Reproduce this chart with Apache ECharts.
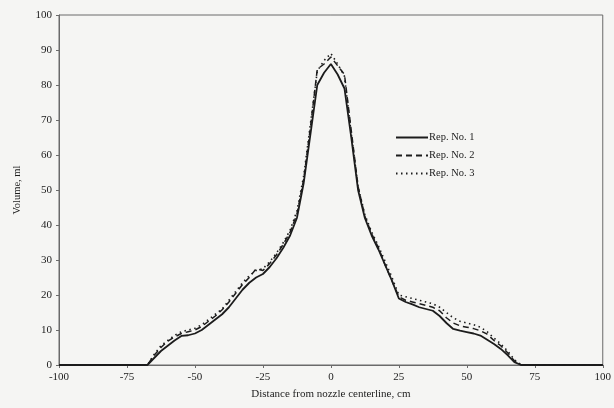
<!DOCTYPE html>
<html>
<head>
<meta charset="utf-8">
<script src="https://cdn.jsdelivr.net/npm/echarts@6/dist/echarts.min.js"></script>
<style>
  html, body { margin: 0; padding: 0; background: #f5f5f3; }
  #chart { width: 614px; height: 408px; }
</style>
</head>
<body>
<div id="chart"></div>
<script>
// Distance from nozzle centerline (cm), sampled every 2.5 cm
const distances = [];
for (let d = -100; d <= 100; d += 2.5) distances.push(d);

// Collected volume (ml) for each replicate
const rep1 = [
  0, 0, 0, 0, 0, 0, 0, 0, 0, 0, 0, 0, 0, 0,      // -100 .. -67.5
  2, 4, 5.5, 7, 8.3, 8.5, 9, 10, 11.5, 13,       // -65 .. -42.5
  14.5, 16.5, 19, 21.5, 23.5, 25, 26, 28, 30.5,  // -40 .. -20
  33.5, 37, 42, 52, 66, 80, 83.5,                // -17.5 .. -2.5
  86,                                            // 0
  83, 79, 65, 50, 42, 37, 33, 28.5, 24,          // 2.5 .. 22.5
  19, 18, 17.3, 16.5, 16, 15.5, 14, 12, 10.3,    // 25 .. 45
  9.8, 9.4, 9, 8.4, 7.2, 6, 4.6, 2.8, 0.8,       // 47.5 .. 67.5
  0, 0, 0, 0, 0, 0, 0, 0, 0, 0, 0, 0, 0          // 70 .. 100
];
const rep2 = [
  0, 0, 0, 0, 0, 0, 0, 0, 0, 0, 0, 0, 0, 0,
  2.8, 5, 6.8, 8, 9, 9.5, 10, 11, 12.5, 14,
  15.8, 18, 20.5, 23, 25, 27.5, 27, 29, 31.5,
  34.5, 38, 43, 53, 68, 84.5, 86,
  88,
  85.5, 83, 67, 51, 42.5, 37.5, 33.5, 28.5, 24,
  19.5, 18.5, 18, 17.5, 17, 16.5, 15.5, 13.5, 12,
  11.2, 10.8, 10.4, 9.8, 8.8, 7, 5.5, 3.5, 1.2,
  0, 0, 0, 0, 0, 0, 0, 0, 0, 0, 0, 0, 0
];
const rep3 = [
  0, 0, 0, 0, 0, 0, 0, 0, 0, 0, 0, 0, 0, 0,
  3, 5.5, 7, 8.5, 9.5, 10, 10.5, 11.5, 13, 14.5,
  16, 18.5, 21, 23.5, 25.5, 27, 27.5, 29.5, 32,
  35, 38.5, 44, 54, 69, 84, 87,
  89,
  86, 82.5, 66, 51, 43, 38, 34, 29.5, 25,
  20, 19.5, 19, 18.5, 18, 17.5, 16.5, 15, 13.5,
  12.5, 12, 11.5, 10.8, 9.5, 7.7, 6, 4, 1.5,
  0, 0, 0, 0, 0, 0, 0, 0, 0, 0, 0, 0, 0
];

const seriesNames = ['Rep. No. 1', 'Rep. No. 2', 'Rep. No. 3'];
const xTicks = [-100, -75, -50, -25, 0, 25, 50, 75, 100];

const pairs = vals => distances.map((d, i) => [d, vals[i]]);
const font = '"Liberation Serif", "DejaVu Serif", serif';
const ink = '#1c1c1c';
const axisColor = '#6a6a6a';

const chart = echarts.init(document.getElementById('chart'), null, { renderer: 'canvas' });

function lineSeries(name, vals, type, width) {
  return {
    name: name,
    type: 'line',
    data: pairs(vals),
    showSymbol: false,
    symbol: 'none',
    smooth: false,
    lineStyle: { color: ink, width: width, type: type },
    itemStyle: { color: ink },
    z: 3
  };
}

chart.setOption({
  backgroundColor: '#f5f5f3',
  animation: false,
  textStyle: { fontFamily: font },
  grid: { left: 59, right: 10, top: 15, bottom: 43, show: true, borderColor: axisColor, borderWidth: 1 },
  legend: {
    orient: 'vertical',
    left: 390,
    top: 127,
    itemWidth: 32,
    itemHeight: 12,
    itemGap: 7,
    itemStyle: { opacity: 0 },
    textStyle: { fontFamily: font, fontSize: 10.5, color: ink, padding: [0, 0, 0, -4] },
    data: seriesNames
  },
  xAxis: {
    type: 'value',
    min: -100,
    max: 100,
    interval: 25,
    name: 'Distance from nozzle centerline, cm',
    nameLocation: 'middle',
    nameGap: 24,
    nameTextStyle: { fontFamily: font, fontSize: 11, color: ink },
    axisLine: { onZero: false, lineStyle: { color: axisColor, width: 1 } },
    axisTick: { show: true, length: 3, lineStyle: { color: axisColor } },
    axisLabel: {
      fontFamily: font, fontSize: 11, color: ink, margin: 7,
      formatter: v => xTicks.includes(v) ? String(v) : ''
    },
    splitLine: { show: false }
  },
  yAxis: {
    type: 'value',
    min: 0,
    max: 100,
    interval: 10,
    name: 'Volume, ml',
    nameLocation: 'middle',
    nameGap: 36,
    nameRotate: 90,
    nameTextStyle: { fontFamily: font, fontSize: 10.5, color: ink },
    axisLine: { show: true, onZero: false, lineStyle: { color: axisColor, width: 1 } },
    axisTick: { show: true, length: 3, lineStyle: { color: axisColor } },
    axisLabel: { fontFamily: font, fontSize: 11, color: ink, margin: 7 },
    splitLine: { show: false }
  },
  series: [
    lineSeries(seriesNames[0], rep1, 'solid', 1.8),
    lineSeries(seriesNames[1], rep2, [6, 4], 1.5),
    lineSeries(seriesNames[2], rep3, [1.5, 3.5], 1.6)
  ]
});
</script>
</body>
</html>
